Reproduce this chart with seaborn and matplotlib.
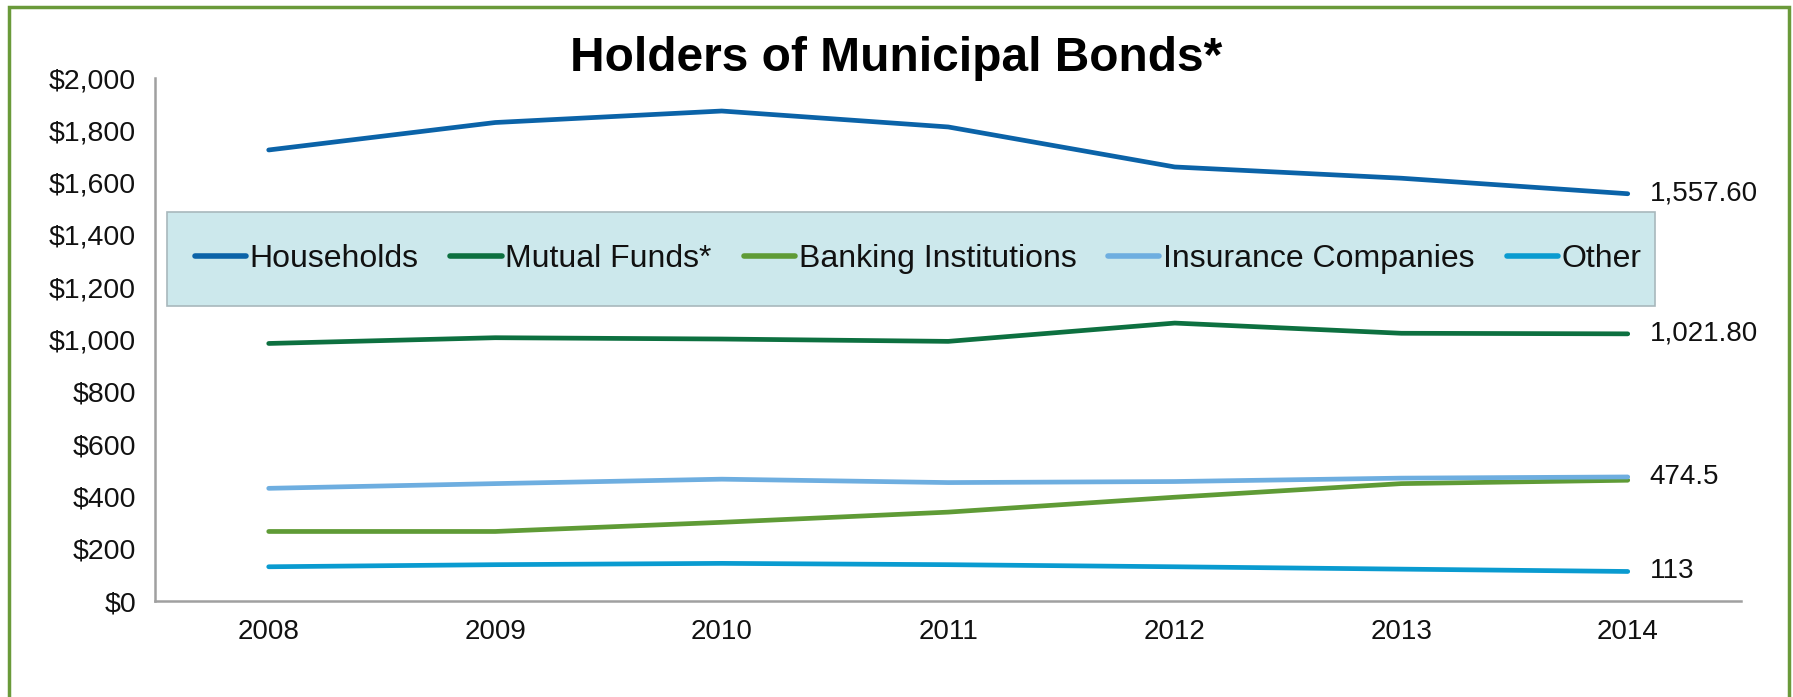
import matplotlib
matplotlib.use("Agg")
import matplotlib.pyplot as plt
import seaborn as sns
import pandas as pd
from matplotlib.patches import Rectangle
from matplotlib.ticker import FuncFormatter, FixedLocator

years = ["2008", "2009", "2010", "2011", "2012", "2013", "2014"]
households = [1725, 1830, 1874, 1813, 1660, 1617, 1557.6]
mutual_funds = [985, 1007, 1002, 993, 1063, 1024, 1021.8]
banking = [266, 266, 301, 340, 397, 449, 462]
insurance = [431, 449, 466, 453, 457, 470, 474.5]
other = [131, 139, 144, 139, 131, 122, 113]
series_names = ["Households", "Mutual Funds*", "Banking Institutions", "Insurance Companies", "Other"]
end_labels = ["1,557.60", "1,021.80", None, "474.5", "113"]
colors = ["#0b63a8", "#0d7040", "#5f9b36", "#6eaee0", "#0a9bd0"]

series = [households, mutual_funds, banking, insurance, other]
rows = []
for name, vals in zip(series_names, series):
    for i, (y, v) in enumerate(zip(years, vals)):
        rows.append({"idx": i, "Year": y, "Value": v, "Series": name})
df = pd.DataFrame(rows)

sns.set_style("white")
plt.rcParams['font.family'] = ['Liberation Sans', 'DejaVu Sans']

fig = plt.figure(figsize=(17.93, 6.97), dpi=100)
ax = fig.add_axes([0.0867, 0.1377, 0.8843, 0.7503])

sns.lineplot(data=df, x="idx", y="Value", hue="Series", palette=colors,
             hue_order=series_names, linewidth=3.4, ax=ax, legend=True, sort=False)

ax.set_xlim(-0.5, len(years) - 0.5)
ax.set_ylim(0, 2000)
ax.set_xlabel("")
ax.set_ylabel("")
ax.set_yticks(range(0, 2001, 200))
ax.yaxis.set_major_formatter(FuncFormatter(lambda v, p: "${:,.0f}".format(v)))
ax.set_xticks(range(len(years)))
ax.set_xticklabels(years)
ax.xaxis.set_minor_locator(FixedLocator([i - 0.5 for i in range(len(years) + 1)]))
ax.tick_params(axis='x', which='major', length=0, pad=13, labelsize=20, labelcolor="#111111")
ax.tick_params(axis='x', which='minor', length=8, width=1.4, color="#a0a0a0", direction='out')
ax.tick_params(axis='y', which='major', length=8, width=1.4, color="#a0a0a0", direction='out',
               labelsize=20.5, pad=6, labelcolor="#111111")
for s in ["top", "right"]:
    ax.spines[s].set_visible(False)
for s in ["left", "bottom"]:
    ax.spines[s].set_color("#a0a0a0")
    ax.spines[s].set_linewidth(1.8)

for name, vals, lab, c in zip(series_names, series, end_labels, colors):
    if lab:
        ax.annotate(lab, xy=(len(years) - 1, vals[-1]), xytext=(22, 0),
                    textcoords="offset pixels",
                    va="center", ha="left", fontsize=20, color="#111111")

# legend background box
ax.add_patch(Rectangle((0.007, 0.564), 0.939, 0.18, transform=ax.transAxes,
                       facecolor="#cce8ec", edgecolor="#a8b8bc", linewidth=1.2, zorder=5))
handles, labels = ax.get_legend_handles_labels()
for h in handles:
    h.set_linewidth(4)
leg = ax.legend(handles, labels, loc="center", bbox_to_anchor=(0.481, 0.654),
                ncol=5, frameon=False, fontsize=23, handlelength=1.6,
                handletextpad=0.12, columnspacing=1.0, borderaxespad=0,
                labelcolor="#111111")
leg.set_zorder(6)

fig.text(0.5, 0.916, "Holders of Municipal Bonds*", fontsize=34.5, fontweight="bold",
         ha="center", va="center", color="black")

# outer green border (open at the bottom, continues off the figure)
fig.patches.append(Rectangle((9 / 1793, -0.05), (1789 - 9) / 1793, 1.05 - 7 / 697,
                             transform=fig.transFigure,
                             fill=False, edgecolor="#6a9a3a", linewidth=2.5))

fig.savefig("out.png", dpi=100)
